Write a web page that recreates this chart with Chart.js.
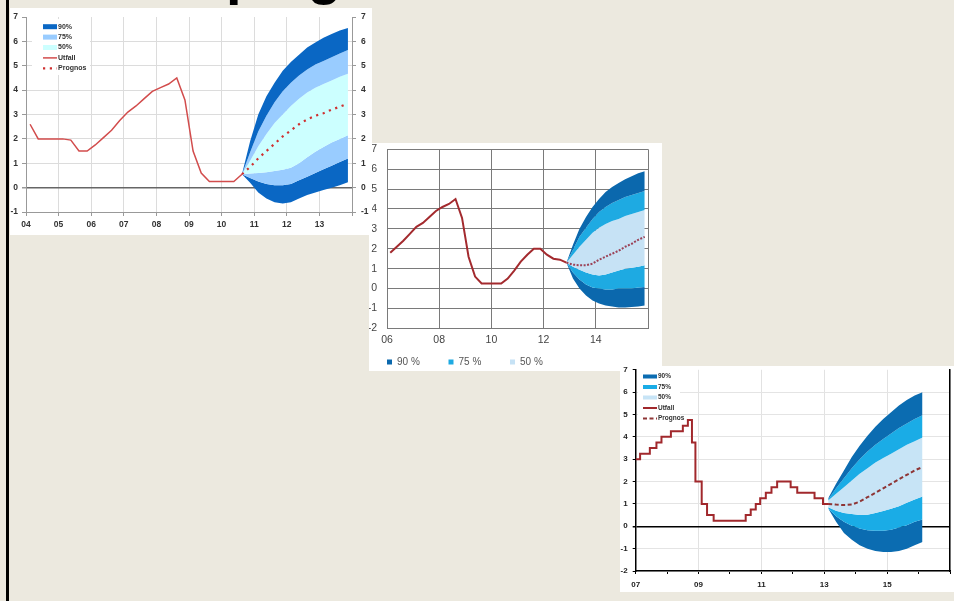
<!DOCTYPE html>
<html>
<head>
<meta charset="utf-8">
<script src="https://cdn.jsdelivr.net/npm/chart.js@4.4.1/dist/chart.umd.min.js"></script>
<style>
  html, body { margin: 0; padding: 0; }
  body { width: 954px; height: 601px; background: #ece9df; position: relative; overflow: hidden;
         font-family: "Liberation Sans", Arial, sans-serif; }
  .rule { position: absolute; left: 6px; top: 0; width: 3px; height: 601px; background: #000; }
  .title { position: absolute; left: 226px; top: -54px; font-size: 56px; line-height: 56px; font-weight: bold;
           letter-spacing: -3px; color: #000; white-space: nowrap; }
  .panel { position: absolute; background: #fff; }
  canvas { position: absolute; }
</style>
</head>
<body>
<div class="rule"></div>
<div class="title">prognos</div>

<div class="panel" style="left:369px;top:143px;width:293px;height:228px;z-index:2"></div>
<canvas id="c2" width="293" height="228" style="left:369px;top:143px;z-index:3"></canvas>

<div class="panel" style="left:620px;top:366px;width:334px;height:226px;z-index:4"></div>
<canvas id="c3" width="334" height="226" style="left:620px;top:366px;z-index:5"></canvas>

<div class="panel" style="left:10px;top:8px;width:362px;height:227px;z-index:6"></div>
<canvas id="c1" width="362" height="227" style="left:10px;top:8px;z-index:7"></canvas>

<script>
// ---- Bild 1: reporänta 2004-2010, prognos till 2013 ----
const kv1Utfall = ['2004Q1','2004Q2','2004Q3','2004Q4','2005Q1','2005Q2','2005Q3','2005Q4',
  '2006Q1','2006Q2','2006Q3','2006Q4','2007Q1','2007Q2','2007Q3','2007Q4',
  '2008Q1','2008Q2','2008Q3','2008Q4','2009Q1','2009Q2','2009Q3','2009Q4',
  '2010Q1','2010Q2','2010Q3'];
const utfall1 = [2.6, 2.0, 2.0, 2.0, 2.0, 1.95, 1.5, 1.5,
  1.75, 2.05, 2.35, 2.75, 3.1, 3.35, 3.65, 3.95,
  4.1, 4.25, 4.5, 3.6, 1.5, 0.6, 0.25, 0.25,
  0.25, 0.25, 0.55];
const kv1Prognos = ['2010Q3','2010Q4','2011Q1','2011Q2','2011Q3','2011Q4',
  '2012Q1','2012Q2','2012Q3','2012Q4','2013Q1','2013Q2','2013Q3','2013Q4'];
const prognos1 = [0.55, 0.85, 1.2, 1.5, 1.8, 2.1, 2.35, 2.6, 2.8, 2.95, 3.05, 3.2, 3.32, 3.45];
const hog90_1 = [0.55, 1.9, 3.0, 3.75, 4.3, 4.8, 5.15, 5.45, 5.75, 5.95, 6.15, 6.3, 6.45, 6.55];
const hog75_1 = [0.55, 1.45, 2.3, 2.95, 3.5, 3.95, 4.3, 4.6, 4.85, 5.05, 5.2, 5.35, 5.5, 5.65];
const hog50_1 = [0.55, 1.1, 1.7, 2.2, 2.65, 3.0, 3.35, 3.65, 3.9, 4.1, 4.25, 4.4, 4.55, 4.67];
const lag50_1 = [0.55, 0.58, 0.6, 0.63, 0.68, 0.73, 0.82, 1.0, 1.25, 1.47, 1.67, 1.85, 2.0, 2.15];
const lag75_1 = [0.55, 0.4, 0.25, 0.15, 0.1, 0.1, 0.15, 0.3, 0.45, 0.6, 0.75, 0.9, 1.05, 1.2];
const lag90_1 = [0.55, 0.2, -0.2, -0.45, -0.6, -0.65, -0.6, -0.45, -0.3, -0.2, -0.1, 0.0, 0.1, 0.22];

// ---- Bild 2: reporänta 2006-2012, prognos till 2015 ----
const kv2Utfall = ['2006Q1','2006Q2','2006Q3','2006Q4','2007Q1','2007Q2','2007Q3','2007Q4',
  '2008Q1','2008Q2','2008Q3','2008Q4','2009Q1','2009Q2','2009Q3','2009Q4',
  '2010Q1','2010Q2','2010Q3','2010Q4','2011Q1','2011Q2','2011Q3','2011Q4',
  '2012Q1','2012Q2','2012Q3','2012Q4'];
const utfall2 = [1.8, 2.1, 2.4, 2.75, 3.1, 3.3, 3.6, 3.9,
  4.1, 4.25, 4.5, 3.55, 1.6, 0.6, 0.25, 0.25,
  0.25, 0.25, 0.5, 0.9, 1.35, 1.7, 2.0, 2.0,
  1.7, 1.5, 1.45, 1.3];
const kv2Prognos = ['2012Q4','2013Q1','2013Q2','2013Q3','2013Q4','2014Q1','2014Q2',
  '2014Q3','2014Q4','2015Q1','2015Q2','2015Q3','2015Q4'];
const prognos2 = [1.3, 1.2, 1.17, 1.17, 1.25, 1.45, 1.6, 1.75, 1.9, 2.1, 2.25, 2.45, 2.6];
const hog90_2 = [1.3, 2.2, 3.0, 3.6, 4.1, 4.5, 4.85, 5.1, 5.3, 5.5, 5.65, 5.8, 5.9];
const hog75_2 = [1.3, 1.95, 2.6, 3.05, 3.5, 3.85, 4.1, 4.3, 4.45, 4.6, 4.7, 4.8, 4.9];
const hog50_2 = [1.3, 1.7, 2.1, 2.45, 2.8, 3.05, 3.25, 3.4, 3.5, 3.65, 3.75, 3.85, 3.95];
const lag50_2 = [1.3, 1.1, 0.95, 0.8, 0.7, 0.65, 0.7, 0.8, 0.9, 1.0, 1.05, 1.1, 1.17];
const lag75_2 = [1.3, 0.8, 0.45, 0.2, 0.05, 0.0, -0.05, -0.05, 0.0, 0.0, 0.0, 0.05, 0.08];
const lag90_2 = [1.3, 0.5, 0.0, -0.35, -0.6, -0.75, -0.85, -0.9, -0.95, -0.95, -0.93, -0.9, -0.85];

// ---- Bild 3: reporänta (trappsteg) 2007-2013, prognos till 2016 ----
const andringsdatum3 = [2007.0, 2007.14, 2007.45, 2007.66, 2007.82, 2008.12, 2008.5, 2008.66,
  2008.79, 2008.9, 2009.1, 2009.27, 2009.48, 2010.5, 2010.66, 2010.82, 2010.96,
  2011.14, 2011.32, 2011.5, 2011.93, 2012.14, 2012.69, 2012.96, 2013.14];
const reporanta3 = [3.0, 3.25, 3.5, 3.75, 4.0, 4.25, 4.5, 4.75,
  3.75, 2.0, 1.0, 0.5, 0.25, 0.5, 0.75, 1.0, 1.25,
  1.5, 1.75, 2.0, 1.75, 1.5, 1.25, 1.0, 1.0];
const kv3Prognos = ['2013Q1','2013Q2','2013Q3','2013Q4','2014Q1','2014Q2','2014Q3',
  '2014Q4','2015Q1','2015Q2','2015Q3','2015Q4','2016Q1'];
const prognos3 = [1.0, 0.97, 0.95, 0.97, 1.1, 1.3, 1.5, 1.7, 1.9, 2.1, 2.3, 2.5, 2.65];
const hog90_3 = [1.25, 1.9, 2.5, 3.1, 3.6, 4.05, 4.45, 4.8, 5.1, 5.4, 5.65, 5.85, 6.0];
const hog75_3 = [1.2, 1.7, 2.15, 2.6, 3.0, 3.35, 3.65, 3.9, 4.15, 4.4, 4.6, 4.8, 4.97];
const hog50_3 = [1.15, 1.45, 1.75, 2.05, 2.35, 2.6, 2.85, 3.05, 3.25, 3.45, 3.65, 3.8, 3.97];
const lag50_3 = [0.85, 0.7, 0.6, 0.55, 0.5, 0.52, 0.6, 0.68, 0.78, 0.9, 1.05, 1.2, 1.33];
const lag75_3 = [0.8, 0.45, 0.2, 0.02, -0.1, -0.18, -0.2, -0.2, -0.15, -0.05, 0.05, 0.2, 0.3];
const lag90_3 = [0.8, 0.2, -0.3, -0.6, -0.85, -1.0, -1.1, -1.15, -1.15, -1.1, -1.0, -0.85, -0.7];

Chart.defaults.font.family = '"Liberation Sans", Arial, sans-serif';

// quarter '2010Q3' -> middle of the quarter as decimal year
function qx(q) {
  const parts = q.split('Q');
  return Number(parts[0]) + (Number(parts[1]) - 1) / 4 + 0.125;
}
function pts(kv, vals) {
  return kv.map((q, i) => ({ x: qx(q), y: vals[i] }));
}
function yy(v) { return String(v).slice(2); }

// fixed axis sizes, no extra label padding
function fitX(h) { return s => { s.height = h; s.paddingLeft = 0; s.paddingRight = 0; }; }
function fitY(w) { return s => { s.width = w; s.paddingTop = 0; s.paddingBottom = 0; }; }

// six band edges, each filled down to the next one
function fanSets(kv, edges, colors, labels) {
  const fills = [colors[0], colors[1], colors[2], colors[1], colors[0], null];
  return edges.map((vals, i) => ({
    label: labels[i],
    data: pts(kv, vals),
    backgroundColor: fills[i] || 'rgba(0,0,0,0)',
    borderColor: 'rgba(0,0,0,0)',
    borderWidth: 0,
    pointRadius: 0,
    fill: i < 5 ? '+1' : false,
    order: 2
  }));
}

// legend drawn as rows (bild 1 och 3) or one line (bild 2)
const legendRows = {
  id: 'legendRows',
  afterDatasetsDraw(chart, args, o) {
    const ctx = chart.ctx;
    const items = chart.data.datasets.filter(d => d.label && (!o.bandsOnly || d.fill));
    ctx.save();
    if (o.box) {
      ctx.fillStyle = '#fff';
      ctx.fillRect(o.box[0], o.box[1], o.box[2], o.box[3]);
    }
    ctx.font = o.font;
    ctx.textBaseline = 'middle';
    ctx.textAlign = 'left';
    items.forEach((d, i) => {
      const x = o.x + i * (o.dx || 0);
      const y = o.y + i * (o.dy || 0);
      if (d.fill) {
        ctx.fillStyle = d.backgroundColor;
        ctx.fillRect(x, y - o.band / 2, o.w, o.band);
      } else {
        ctx.strokeStyle = d.borderColor;
        ctx.lineWidth = d.borderWidth;
        ctx.setLineDash(d.borderDash || []);
        ctx.beginPath();
        ctx.moveTo(x, y);
        ctx.lineTo(x + o.w, y);
        ctx.stroke();
        ctx.setLineDash([]);
      }
      ctx.fillStyle = o.color;
      ctx.fillText(d.label, x + o.w + o.gap, y);
    });
    ctx.restore();
  }
};

const tick1 = { size: 8.5, weight: 'bold' };

new Chart(document.getElementById('c1'), {
  type: 'line',
  data: {
    datasets: [
      ...fanSets(kv1Prognos, [hog90_1, hog75_1, hog50_1, lag50_1, lag75_1, lag90_1],
        ['#0a67c4', '#99ccff', '#ccffff'], ['90%', '75%', '50%']),
      { label: 'Utfall', data: pts(kv1Utfall, utfall1), borderColor: '#d24c4c', borderWidth: 1.5,
        pointRadius: 0, fill: false, order: 1 },
      { label: 'Prognos', data: pts(kv1Prognos, prognos1), borderColor: '#cf3030', borderWidth: 2.2,
        borderDash: [2.2, 4.6], pointRadius: 0, fill: false, order: 1 }
    ]
  },
  options: {
    responsive: false,
    animation: false,
    layout: { padding: { top: 9, left: 0, right: 0, bottom: 0 } },
    plugins: {
      legend: { display: false },
      tooltip: { enabled: false },
      legendRows: { box: [22, 11, 58, 56], x: 33, y: 18.7, dy: 10.4, w: 14, gap: 1, band: 5,
        font: 'bold 7px "Liberation Sans"', color: '#333' }
    },
    scales: {
      x: {
        type: 'linear', min: 2004, max: 2014,
        afterFit: fitX(23),
        ticks: { stepSize: 1, autoSkip: false, maxRotation: 0, padding: 4, font: tick1, color: '#333',
          callback: v => v === 2014 ? '' : yy(v) },
        grid: { color: '#dcdcdc', tickLength: 4, tickColor: '#999' },
        border: { color: '#999' }
      },
      y: {
        min: -1, max: 7,
        afterFit: fitY(16),
        ticks: { stepSize: 1, padding: 4, font: tick1, color: '#333' },
        grid: {
          color: c => c.tick.value === 0 ? '#666' : (c.tick.value === 7 ? 'rgba(0,0,0,0)' : '#dcdcdc'),
          lineWidth: c => c.tick.value === 0 ? 1.5 : 1,
          tickLength: 4, tickColor: '#999'
        },
        border: { color: '#999' }
      },
      y2: {
        position: 'right', min: -1, max: 7,
        afterFit: fitY(20),
        ticks: { stepSize: 1, padding: 5, font: tick1, color: '#333' },
        grid: { drawOnChartArea: false, tickLength: 4, tickColor: '#999' },
        border: { color: '#999' }
      }
    }
  },
  plugins: [legendRows]
});

new Chart(document.getElementById('c2'), {
  type: 'line',
  data: {
    datasets: [
      ...fanSets(kv2Prognos, [hog90_2, hog75_2, hog50_2, lag50_2, lag75_2, lag90_2],
        ['#0b68ad', '#1eaae2', '#c6e2f5'], ['90 %', '75 %', '50 %']),
      { label: 'Utfall', data: pts(kv2Utfall, utfall2), borderColor: '#a32a2e', borderWidth: 2,
        pointRadius: 0, fill: false, order: 1 },
      { label: 'Prognos', data: pts(kv2Prognos, prognos2), borderColor: '#9b4257', borderWidth: 2,
        borderDash: [2, 1.5], pointRadius: 0, fill: false, order: 1 }
    ]
  },
  options: {
    responsive: false,
    animation: false,
    layout: { padding: { top: 6.3, left: 0, right: 14, bottom: 0 } },
    plugins: {
      legend: { display: false },
      tooltip: { enabled: false },
      legendRows: { bandsOnly: true, x: 18, y: 219, dx: 61.5, w: 5, gap: 5, band: 5,
        font: '10px "Liberation Sans"', color: '#555' }
    },
    scales: {
      x: {
        type: 'linear', min: 2006, max: 2016,
        afterFit: fitX(42.7),
        ticks: { stepSize: 2, autoSkip: false, maxRotation: 0, padding: 5.4, font: { size: 10.5 }, color: '#444',
          callback: v => v === 2016 ? '' : yy(v) },
        grid: { color: '#7a7a7a', drawTicks: false },
        border: { color: '#7a7a7a' }
      },
      y: {
        min: -2, max: 7,
        afterFit: fitY(18),
        ticks: { stepSize: 1, padding: 10, font: { size: 10.5 }, color: '#444' },
        grid: { color: '#7a7a7a', drawTicks: false },
        border: { color: '#7a7a7a' }
      }
    }
  },
  plugins: [legendRows]
});

const tick3 = { size: 8, weight: 'bold' };

new Chart(document.getElementById('c3'), {
  type: 'line',
  data: {
    datasets: [
      ...fanSets(kv3Prognos, [hog90_3, hog75_3, hog50_3, lag50_3, lag75_3, lag90_3],
        ['#0b6cb1', '#1aace6', '#c7e4f6'], ['90%', '75%', '50%']),
      { label: 'Utfall', data: andringsdatum3.map((t, i) => ({ x: t, y: reporanta3[i] })), stepped: true,
        borderColor: '#a1282c', borderWidth: 2, pointRadius: 0, fill: false, order: 1 },
      { label: 'Prognos', data: pts(kv3Prognos, prognos3), borderColor: '#8e3535', borderWidth: 2,
        borderDash: [4, 2.5], pointRadius: 0, fill: false, order: 1 }
    ]
  },
  options: {
    responsive: false,
    animation: false,
    layout: { padding: { top: 3.8, left: 0, right: 0, bottom: 0 } },
    plugins: {
      legend: { display: false },
      tooltip: { enabled: false },
      legendRows: { box: [18, 5, 42, 52], x: 23, y: 10.5, dy: 10.5, w: 14, gap: 1, band: 4,
        font: 'bold 6.5px "Liberation Sans"', color: '#333' }
    },
    scales: {
      x: {
        type: 'linear', min: 2007, max: 2017,
        afterFit: fitX(21),
        ticks: { stepSize: 1, autoSkip: false, maxRotation: 0, padding: 6, font: tick3, color: '#222',
          callback: v => (v % 2 === 1 && v < 2017) ? yy(v) : '' },
        grid: { color: c => c.tick.value % 2 === 1 ? '#e2e2e2' : 'rgba(0,0,0,0)', tickLength: 3, tickColor: '#000' },
        border: { color: '#000', width: 1.5 }
      },
      y: {
        min: -2, max: 7,
        afterFit: fitY(15.7),
        ticks: { stepSize: 1, padding: 5, font: tick3, color: '#222' },
        grid: {
          color: c => c.tick.value === 0 ? '#000' : (c.tick.value === 7 ? 'rgba(0,0,0,0)' : '#e4e4e4'),
          lineWidth: c => c.tick.value === 0 ? 1.5 : 1,
          tickLength: 3, tickColor: '#000'
        },
        border: { color: '#000', width: 1.5 }
      },
      y2: {
        position: 'right', min: -2, max: 7,
        afterFit: fitY(4),
        ticks: { display: false },
        grid: { drawOnChartArea: false, drawTicks: false },
        border: { color: '#000', width: 1.5 }
      }
    }
  },
  plugins: [legendRows]
});
</script>
</body>
</html>
